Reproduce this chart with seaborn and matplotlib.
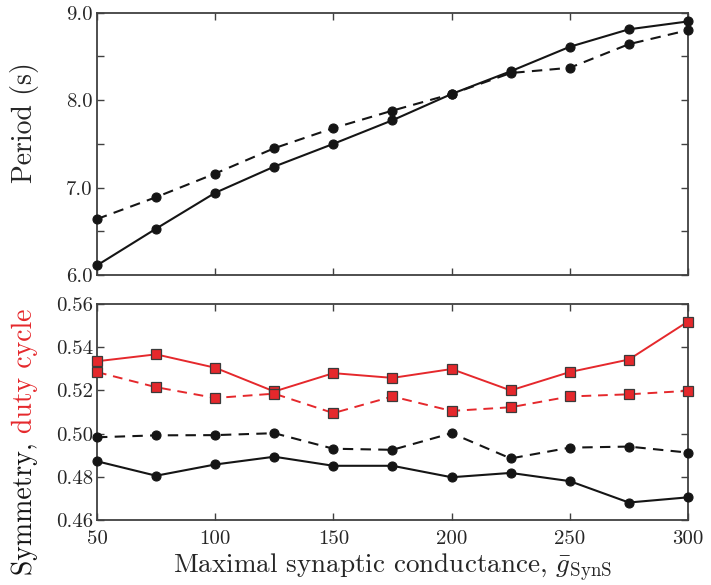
import numpy as np
import pandas as pd
import matplotlib
matplotlib.use("Agg")
import matplotlib.pyplot as plt
import seaborn as sns

# ---- data ----
g_syn = [50, 75, 100, 125, 150, 175, 200, 225, 250, 275, 300]
period_solid = [6.11, 6.53, 6.94, 7.24, 7.50, 7.77, 8.07, 8.33, 8.61, 8.81, 8.90]
period_dashed = [6.64, 6.89, 7.16, 7.45, 7.68, 7.88, 8.07, 8.31, 8.37, 8.64, 8.80]
duty_solid = [0.5335, 0.5367, 0.5305, 0.5195, 0.5280, 0.5258, 0.5299, 0.5200, 0.5285, 0.5343, 0.5519]
duty_dashed = [0.5285, 0.5215, 0.5165, 0.5185, 0.5095, 0.5172, 0.5105, 0.5122, 0.5172, 0.5182, 0.5198]
sym_dashed = [0.4983, 0.4992, 0.4993, 0.5002, 0.4930, 0.4925, 0.5002, 0.4885, 0.4935, 0.4940, 0.4912]
sym_solid = [0.4872, 0.4805, 0.4857, 0.4893, 0.4851, 0.4851, 0.4798, 0.4818, 0.4780, 0.4681, 0.4705]

top_yticks = [6.0, 6.5, 7.0, 7.5, 8.0, 8.5, 9.0]
top_yticklabels = ["6.0", "", "7.0", "", "8.0", "", "9.0"]
bot_yticks = [0.46, 0.48, 0.50, 0.52, 0.54, 0.56]
xticks = [50, 100, 150, 200, 250, 300]

sns.set_style("ticks")
plt.rcParams["font.family"] = ["cmr10", "DejaVu Serif"]
plt.rcParams["mathtext.fontset"] = "cm"
plt.rcParams["axes.formatter.use_mathtext"] = True

RED = "#e5282c"
BLACK = "#151515"
SPINE = "#404040"

fig = plt.figure(figsize=(7.11, 5.85), dpi=100)
ax1 = fig.add_axes([0.1364, 0.5299, 0.9676 - 0.1364, 0.9783 - 0.5299])
ax2 = fig.add_axes([0.1364, 0.1111, 0.9676 - 0.1364, 0.4803 - 0.1111])

df = pd.DataFrame({
    "g": g_syn,
    "ps": period_solid, "pd": period_dashed,
    "ds": duty_solid, "dd": duty_dashed,
    "ss": sym_solid, "sd": sym_dashed,
})

circ = dict(marker="o", markersize=6.5, markeredgewidth=0.8)
sq = dict(marker="s", markersize=7.5, markeredgewidth=0.9, markeredgecolor="#3a3a3a")

sns.lineplot(data=df, x="g", y="ps", ax=ax1, color=BLACK, linewidth=1.5,
             markeredgecolor=BLACK, **circ, clip_on=False, zorder=3)
sns.lineplot(data=df, x="g", y="pd", ax=ax1, color=BLACK, linewidth=1.5,
             linestyle=(0, (5, 3.5)), markeredgecolor=BLACK, **circ, clip_on=False, zorder=3)

sns.lineplot(data=df, x="g", y="ds", ax=ax2, color=RED, linewidth=1.4,
             markerfacecolor=RED, **sq, clip_on=False, zorder=3)
sns.lineplot(data=df, x="g", y="dd", ax=ax2, color=RED, linewidth=1.4,
             linestyle=(0, (5, 3.5)), markerfacecolor=RED, **sq, clip_on=False, zorder=3)
sns.lineplot(data=df, x="g", y="sd", ax=ax2, color=BLACK, linewidth=1.5,
             linestyle=(0, (5, 3.5)), markeredgecolor=BLACK, **circ, clip_on=False, zorder=3)
sns.lineplot(data=df, x="g", y="ss", ax=ax2, color=BLACK, linewidth=1.5,
             markeredgecolor=BLACK, **circ, clip_on=False, zorder=3)

for ax in (ax1, ax2):
    ax.set_xlim(50, 300)
    ax.set_xticks(xticks)
    ax.tick_params(direction="in", top=True, right=True, length=5, width=1,
                   color=SPINE, labelsize=15, pad=3)
    for s in ax.spines.values():
        s.set_color(SPINE)
        s.set_linewidth(1.3)
    ax.set_xlabel("")
    ax.set_ylabel("")

ax1.set_ylim(6.0, 9.0)
ax1.set_yticks(top_yticks)
ax1.set_yticklabels(top_yticklabels)
ax1.tick_params(labelbottom=False)

ax2.set_ylim(0.46, 0.56)
ax2.set_yticks(bot_yticks)
ax2.set_yticklabels([f"{v:.2f}" for v in bot_yticks])
ax2.set_xticklabels([str(v) for v in xticks])
ax2.tick_params(axis="x", pad=7)

ax2.set_xlabel(r"Maximal synaptic conductance, $\bar{g}_{\mathrm{SynS}}$", fontsize=19.5, labelpad=3)

fig.text(0.034, 0.791, "Period (s)", rotation=90, fontsize=20, ha="center", va="center")
t1 = fig.text(0.035, 0.017, "Symmetry, ", rotation=90, fontsize=20, ha="center", va="bottom", color=BLACK)
fig.canvas.draw()
ax2.annotate("duty cycle", xy=(0.5, 1.0), xycoords=t1, rotation=90, fontsize=20,
             ha="center", va="bottom", color=RED, annotation_clip=False)

fig.savefig("out.png", dpi=100)
